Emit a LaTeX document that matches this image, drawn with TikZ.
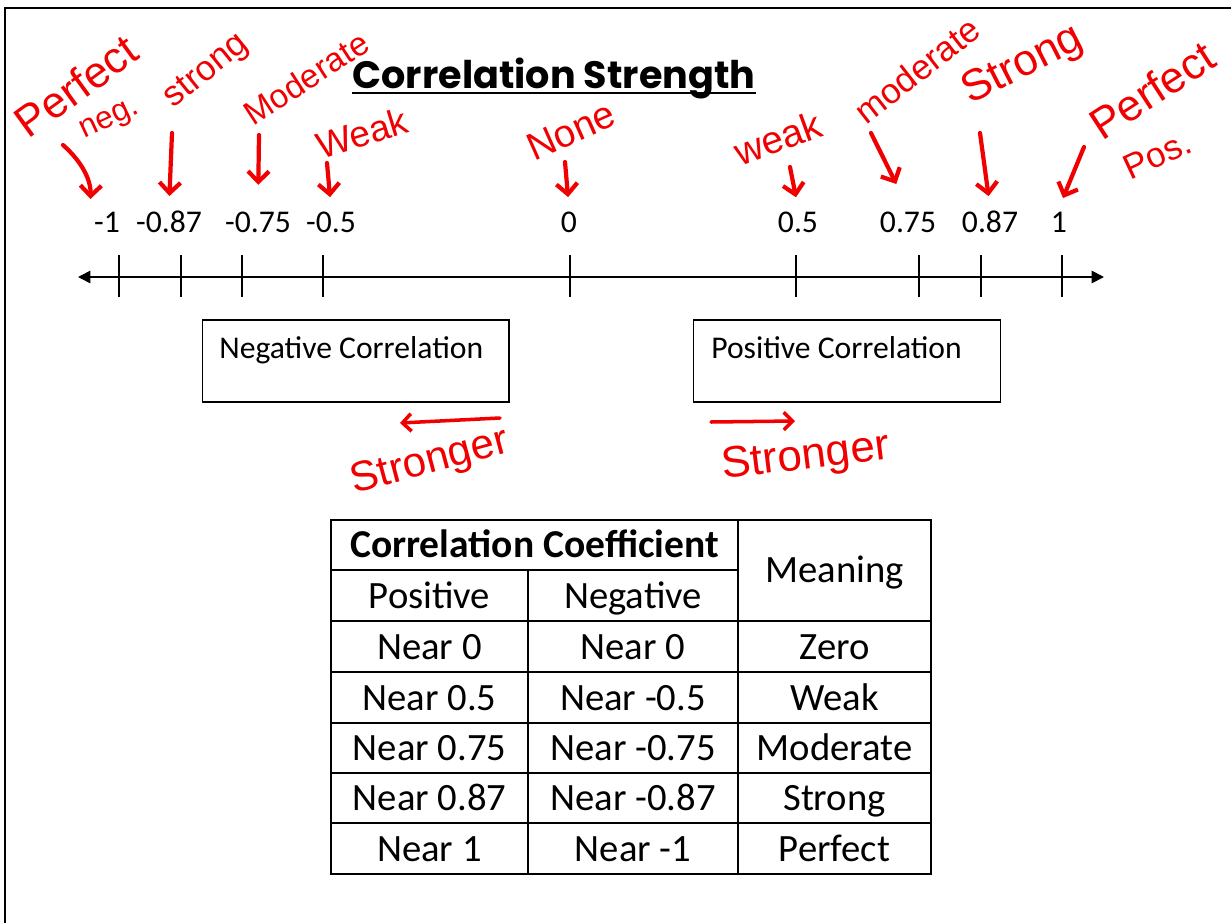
\documentclass[tikz,border=0pt]{standalone}
\usepackage{fontspec}
\setmainfont{Carlito}
\newfontfamily\titlefont{Poppins}
\newfontfamily\inkfont{Liberation Sans}
\usetikzlibrary{arrows.meta}
\usetikzlibrary{calc,positioning}
\definecolor{inkred}{RGB}{240,0,0}

\begin{document}
\begin{tikzpicture}[x=0.02cm, y=-0.02cm,
  num/.style = {font=\fontsize{18}{21}\selectfont, anchor=base, inner sep=2pt},
  cell/.style = {font=\fontsize{22}{26}\selectfont, anchor=base, inner sep=0pt},
  ink/.style = {text=inkred, font=\inkfont\fontsize{#1}{#1}\selectfont, inner sep=0pt},
  pen/.style = {draw=inkred, line width=2.4pt, line cap=round, line join=round, -{Straight Barb[length=6pt,width=12pt]}},
  grid/.style = {line width=1.1pt},
  corrbox/.style = {draw, line width=0.6pt, minimum width=6.14cm, minimum height=1.64cm, inner sep=0pt}]

\useasboundingbox (0,0) rectangle (1231,923);
\draw[line width=1.6pt] (5,923) -- (5,8) -- (1231,8);

% title
\node[font=\titlefont\bfseries\fontsize{21.7}{25}\selectfont, anchor=base, inner sep=0pt] (ttl) at (554,88) {Correlation Strength};
\draw[line width=1.3pt] ([yshift=-3pt]ttl.base west) -- ([yshift=-3pt]ttl.base east);

% number line
\coordinate (axL) at (78,277);
\coordinate (axR) at (1104,277);
\draw[line width=1pt, {Triangle[length=7pt,width=7pt]}-{Triangle[length=7pt,width=7pt]}] (axL) -- (axR);
\foreach \x in {119,181,242,323,570,796,919,981,1062}
  \draw[line width=0.7pt] (\x,255) -- (\x,297);

\node[num] (t1) at (107,232) {-1};
\node[num] (t2) at (169,232) {-0.87};
\node[num] (t3) at (258,232) {-0.75};
\node[num] (t4) at (331,232) {-0.5};
\node[num] (t5) at (569,232) {0};
\node[num] (t6) at (798,232) {0.5};
\node[num] (t7) at (908,232) {0.75};
\node[num] (t8) at (990,232) {0.87};
\node[num] (t9) at (1059,232) {1};

% boxes
\node[corrbox] (negbox) at (355.5,361) {};
\node[corrbox] (posbox) at (847,361) {};
\node[num, anchor=base west, inner sep=0pt] (negtxt) at (219,358) {Negative Correlation};
\node[num, anchor=base west, inner sep=0pt] (postxt) at (711,358) {Positive Correlation};

% red notes
\node[ink=25, rotate=36] (perfneg) at (76,86) {Perfect};
\node[ink=18, rotate=25] (neg) at (110,121) {neg.};
\node[ink=20, rotate=39] (strneg) at (207,72) {strong};
\node[ink=19, rotate=33] (modneg) at (306,78) {Moderate};
\node[ink=21, rotate=17] (weakneg) at (362,133) {Weak};
\node[ink=22, rotate=24] (none) at (571,131) {None};
\node[ink=22, rotate=20] (weakpos) at (778,138) {weak};
\node[ink=20, rotate=38] (modpos) at (917,70) {moderate};
\node[ink=25, rotate=27] (strpos) at (1023,66) {Strong};
\node[ink=25, rotate=33] (perfpos) at (1152,90) {Perfect};
\node[ink=20, rotate=25] (pos) at (1157,155) {Pos.};
\node[ink=24, rotate=15] (strongerL) at (430,463) {Stronger};
\node[ink=25, rotate=7] (strongerR) at (806,458) {Stronger};

\coordinate (a1) at (63,145);
\coordinate (a2) at (172,133);
\coordinate (a3) at (259,135);
\coordinate (a4) at (327,163);
\coordinate (a5) at (565,162);
\coordinate (a6) at (790,167);
\coordinate (a7) at (871,133);
\coordinate (a8) at (980,133);
\coordinate (a9) at (1084,147);
\draw[pen, shorten >=5pt] (a1) to[bend left=25] (t1.north west);
\draw[pen, shorten >=6pt] (a2) -- (t2.north);
\draw[pen, shorten >=13pt] (a3) -- (t3.north);
\draw[pen, shorten >=6pt] (a4) -- (t4.north);
\draw[pen, shorten >=6pt] (a5) -- (t5.north);
\draw[pen, shorten >=6pt] (a6) -- (t6.north);
\draw[pen, shorten >=15pt] (a7) -- (t7.north);
\draw[pen, shorten >=6pt] (a8) -- (t8.north);
\draw[pen, shorten >=6pt] (a9) -- (t9.north);

\coordinate (sL1) at (500,418);
\coordinate (sL2) at (400,423);
\coordinate (sR1) at (711,422);
\coordinate (sR2) at (795,421);
\draw[pen, line width=2pt, -{Straight Barb[length=5pt,width=10pt]}] (sL1) -- (sL2);
\draw[pen, line width=2pt, -{Straight Barb[length=5pt,width=10pt]}] (sR1) -- (sR2);

% table
\draw[grid] (331,520) rectangle (931,874);
\draw[grid] (528,570) -- (528,874);
\draw[grid] (738,520) -- (738,874);
\draw[grid] (331,570) -- (738,570);
\foreach \y in {621,672,723,773,823}
  \draw[grid] (331,\y) -- (931,\y);

\node[cell, font=\bfseries\fontsize{22.5}{26}\selectfont] (cc) at (534.5,557.5) {Correlation Coefficient};
\node[cell] (mean) at (834.5,582.5) {Meaning};
\node[cell] (hpos) at (429.5,608) {Positive};
\node[cell] (hneg) at (633,608) {Negative};
\node[cell] (p1) at (429.5,659) {Near 0};
\node[cell] (n1) at (633,659) {Near 0};
\node[cell] (m1) at (834.5,659) {Zero};
\node[cell] (p2) at (429.5,710) {Near 0.5};
\node[cell] (n2) at (633,710) {Near -0.5};
\node[cell] (m2) at (834.5,710) {Weak};
\node[cell] (p3) at (429.5,760.5) {Near 0.75};
\node[cell] (n3) at (633,760.5) {Near -0.75};
\node[cell] (m3) at (834.5,760.5) {Moderate};
\node[cell] (p4) at (429.5,810.5) {Near 0.87};
\node[cell] (n4) at (633,810.5) {Near -0.87};
\node[cell] (m4) at (834.5,810.5) {Strong};
\node[cell] (p5) at (429.5,861) {Near 1};
\node[cell] (n5) at (633,861) {Near -1};
\node[cell] (m5) at (834.5,861) {Perfect};

\end{tikzpicture}
\end{document}
